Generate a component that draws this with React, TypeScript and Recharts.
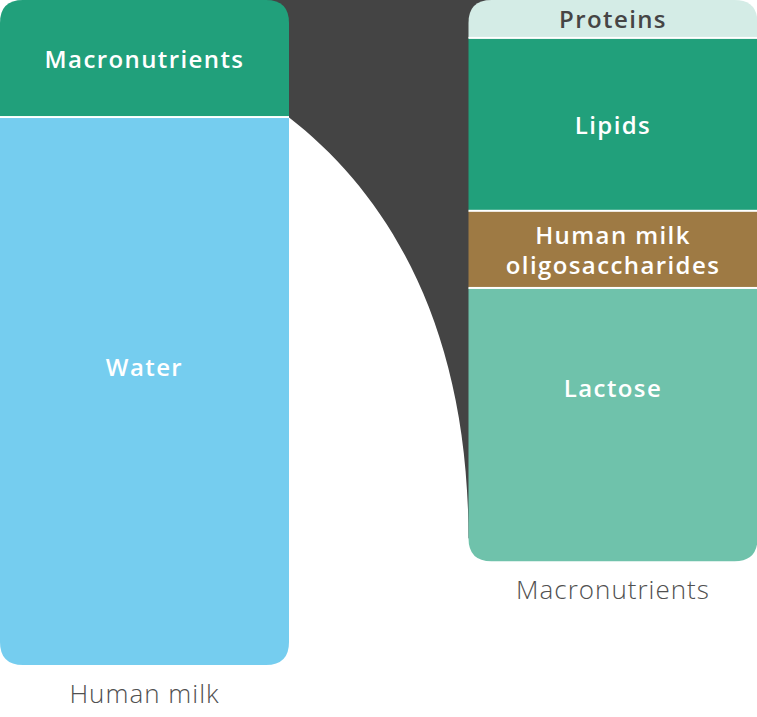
import { BarChart, Bar, XAxis, YAxis, ReferenceArea, LabelList } from 'recharts'

// categories and segment sizes (share of the left bar height, 100 = whole bar)
const CATEGORIES = ['Human milk', 'Macronutrients']
const MACRONUTRIENTS = [17.6, 0]
const WATER = [82.4, 0]
const PROTEINS = [0, 5.7]
const LIPIDS = [0, 26.0]
const HMO = [0, 11.6]
const LACTOSE = [0, 41.1]

const FONT = '"Open Sans", sans-serif'
const GAP = 90
const RADIUS = 23

const data = CATEGORIES.map((name, i) => ({
  name,
  macro: MACRONUTRIENTS[i],
  water: WATER[i],
  proteins: PROTEINS[i],
  lipids: LIPIDS[i],
  hmo: HMO[i],
  lactose: LACTOSE[i],
}))

const rightTotal = PROTEINS[1] + LIPIDS[1] + HMO[1] + LACTOSE[1]

type Seg = {
  key: string
  lines: string[]
  fill: string
  text: string
  dy: number
  top: boolean
  bottom: boolean
}

const SEGMENTS: Seg[] = [
  { key: 'macro', lines: ['Macronutrients'], fill: '#21a07b', text: '#fff', dy: 0, top: true, bottom: false },
  { key: 'water', lines: ['Water'], fill: '#75cdef', text: '#fff', dy: -25, top: false, bottom: true },
  { key: 'proteins', lines: ['Proteins'], fill: '#d4ece6', text: '#454545', dy: 0, top: true, bottom: false },
  { key: 'lipids', lines: ['Lipids'], fill: '#21a07b', text: '#fff', dy: 0, top: false, bottom: false },
  { key: 'hmo', lines: ['Human milk', 'oligosaccharides'], fill: '#9e7a44', text: '#fff', dy: 0, top: false, bottom: false },
  { key: 'lactose', lines: ['Lactose'], fill: '#6fc2ab', text: '#fff', dy: -37, top: false, bottom: true },
]

function norm(y: number, h: number) {
  return { top: Math.min(y, y + h), h: Math.abs(h) }
}

function segmentShape(s: Seg) {
  return (p: any) => {
    const { x, width } = p
    const { top, h } = norm(p.y, p.height)
    if (!h || h < 0.5) return <g />
    const rt = s.top ? RADIUS : 0
    const rb = s.bottom ? RADIUS : 0
    const b = top + h
    const d = [
      `M${x},${top + rt}`,
      rt ? `Q${x},${top} ${x + rt},${top}` : '',
      `L${x + width - rt},${top}`,
      rt ? `Q${x + width},${top} ${x + width},${top + rt}` : '',
      `L${x + width},${b - rb}`,
      rb ? `Q${x + width},${b} ${x + width - rb},${b}` : '',
      `L${x + rb},${b}`,
      rb ? `Q${x},${b} ${x},${b - rb}` : '',
      'Z',
    ].join(' ')
    return (
      <g>
        <path d={d} fill={s.fill} />
        {!s.top && <rect x={x} y={top - 1} width={width} height={2} fill="#fff" />}
      </g>
    )
  }
}

function segmentLabel(s: Seg) {
  return (p: any) => {
    const { top, h } = norm(Number(p.y), Number(p.height))
    if (!h || h < 0.5) return null
    const cx = Number(p.x) + Number(p.width) / 2
    const cy = top + h / 2 + s.dy
    const lh = 30
    const start = cy - ((s.lines.length - 1) * lh) / 2
    return (
      <text textAnchor="middle" fill={s.text} fontFamily={FONT} fontSize={24} fontWeight={600} letterSpacing={1.4}>
        {s.lines.map((l, i) => (
          <tspan key={i} x={cx} y={start + i * lh} dominantBaseline="central">{l}</tspan>
        ))}
      </text>
    )
  }
}

function categoryLabel(p: any) {
  const { top, h } = norm(Number(p.y), Number(p.height))
  if (!h || h < 0.5) return null
  return (
    <text x={Number(p.x) + Number(p.width) / 2} y={top + h + 38} textAnchor="middle"
          fill="#505050" fontFamily={FONT} fontSize={26} fontWeight={300} letterSpacing={1}>
      {CATEGORIES[p.index]}
    </text>
  )
}

// dark band linking the left macronutrient segment to the breakdown bar
function Connector(p: any) {
  const { x, y, width, height } = p
  const band = width / 2
  const l = x + band - GAP
  const r = x + band + GAP
  const top = y
  const end = y + height - RADIUS
  const mb = y + height * (MACRONUTRIENTS[0] / rightTotal)
  const span = r - l
  const vs = end - mb
  const d = [
    `M${l - RADIUS},${top}`,
    `L${r + RADIUS},${top}`,
    `L${r + RADIUS},${end}`,
    `L${r},${end}`,
    `C${r},${mb + vs * 0.5} ${l + span * 0.56},${mb + vs * 0.185} ${l},${mb}`,
    `L${l - RADIUS},${mb}`,
    'Z',
  ].join(' ')
  return <path d={d} fill="#444444" />
}

export default function App() {
  return (
    <div style={{ position: 'fixed', left: 0, top: 0, width: 757, height: 717, overflow: 'hidden', background: '#fff' }}>
      <div style={{ marginLeft: -GAP }}>
        <BarChart width={757 + 2 * GAP} height={717} data={data} barCategoryGap={GAP}
                  margin={{ top: 0, right: 0, bottom: 52, left: 0 }}>
          <XAxis dataKey="name" hide />
          <YAxis type="number" domain={[0, 100]} reversed hide />
          <ReferenceArea x1={CATEGORIES[0]} x2={CATEGORIES[1]} y1={0} y2={rightTotal}
                         shape={Connector} ifOverflow="visible" />
          {SEGMENTS.map((s) => (
            <Bar key={s.key} dataKey={s.key} stackId="a" fill={s.fill}
                 shape={segmentShape(s)} isAnimationActive={false}>
              <LabelList dataKey={s.key} content={segmentLabel(s)} />
              {s.bottom && <LabelList dataKey={s.key} content={categoryLabel} />}
            </Bar>
          ))}
        </BarChart>
      </div>
    </div>
  )
}
